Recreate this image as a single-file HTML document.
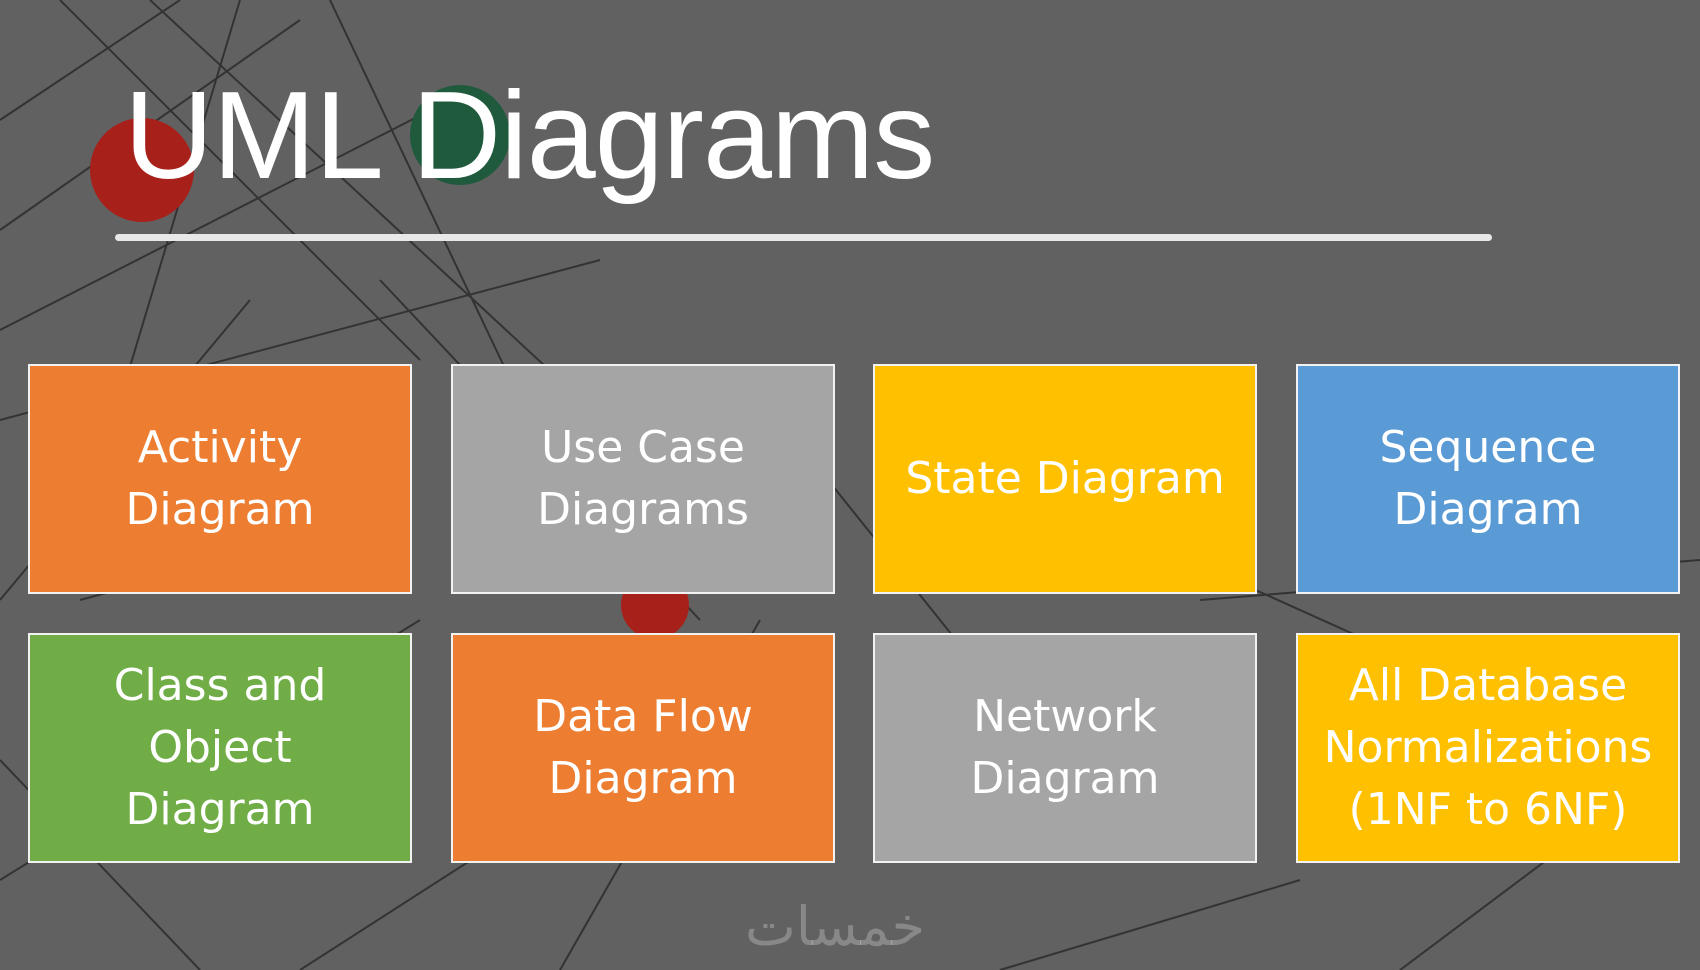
<!DOCTYPE html>
<html><head><meta charset="utf-8"><style>
html,body{margin:0;padding:0}
body{width:1700px;height:970px;overflow:hidden;background:#616161;position:relative;font-family:"Liberation Sans","DejaVu Sans",sans-serif}
svg.bg{position:absolute;left:0;top:0}
.title{position:absolute;left:124px;top:74px;font-size:124px;color:#fff;letter-spacing:-1px;line-height:1}
.ul{position:absolute;left:115px;top:234px;width:1377px;height:7px;background:#e8e8e8;border-radius:4px}
.b{position:absolute;width:380px;height:226px;border:2px solid #f2f2f2;display:flex;align-items:center;justify-content:center;text-align:center;color:#fff;font-size:44px;line-height:62px;font-family:"DejaVu Sans","Liberation Sans",sans-serif}
.o{background:#ed7d31}.g{background:#a5a5a5}.y{background:#ffc000}.bl{background:#5b9bd5}.gr{background:#70ad47}
.wm{position:absolute;left:745px;top:895px;font-size:54px;color:rgba(255,255,255,0.25);font-family:"DejaVu Sans",sans-serif}
</style></head><body>
<svg class="bg" width="1700" height="970" stroke="#333" stroke-width="2" fill="none">
<path d="M0 120 L180 0 M60 0 L420 360 M0 230 L300 20 M150 0 L560 380 M0 330 L470 90 M240 0 L120 400 M0 420 L600 260 M330 0 L520 400 M0 600 L250 300 M380 280 L700 620 M820 470 L1020 720 M1100 520 L1500 700 M900 860 L1200 640 M1200 600 L1700 560 M0 880 L420 620 M300 970 L720 700 M560 970 L760 620 M1000 970 L1300 880 M1400 970 L1600 820 M0 760 L200 970 M80 600 L380 520"/>
<circle cx="142" cy="170" r="52" fill="#a8201a" stroke="none"/>
<circle cx="460" cy="135" r="50" fill="#1f5a3d" stroke="none"/>
<circle cx="655" cy="605" r="34" fill="#a8201a" stroke="none"/>
</svg>
<div class="title">UML Diagrams</div>
<div class="ul"></div>
<div class="b o" style="left:28px;top:364px">Activity<br>Diagram</div>
<div class="b g" style="left:451px;top:364px">Use Case<br>Diagrams</div>
<div class="b y" style="left:873px;top:364px">State Diagram</div>
<div class="b bl" style="left:1296px;top:364px">Sequence<br>Diagram</div>
<div class="b gr" style="left:28px;top:633px">Class and<br>Object<br>Diagram</div>
<div class="b o" style="left:451px;top:633px">Data Flow<br>Diagram</div>
<div class="b g" style="left:873px;top:633px">Network<br>Diagram</div>
<div class="b y" style="left:1296px;top:633px">All Database<br>Normalizations<br>(1NF to 6NF)</div>
<div class="wm">خمسات</div>
</body></html>
